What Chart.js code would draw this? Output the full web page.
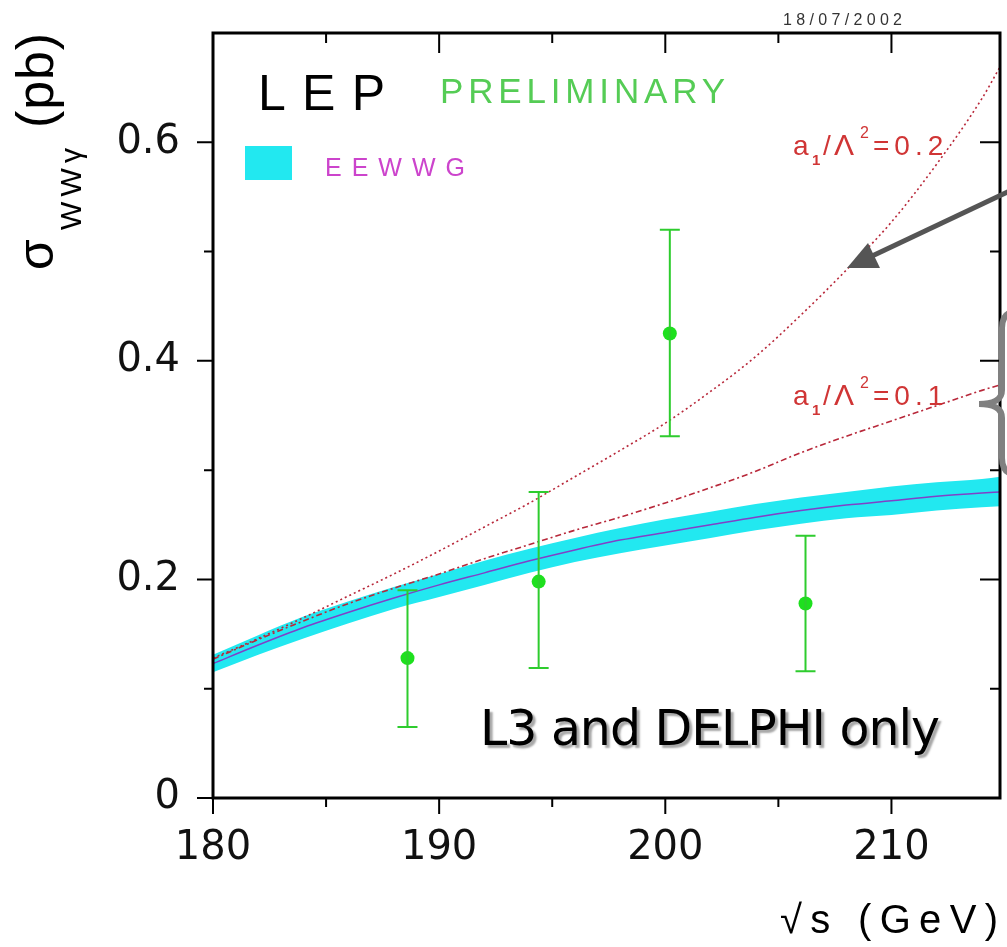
<!DOCTYPE html>
<html>
<head>
<meta charset="utf-8">
<script src="https://cdn.jsdelivr.net/npm/chart.js@4.4.0/dist/chart.umd.min.js"></script>
<style>
  html, body { margin: 0; padding: 0; background: #fff; }
  canvas { display: block; }
</style>
</head>
<body>
<canvas id="wwgChart" width="1007" height="947"></canvas>
<script>
// sqrt(s) points of the theory curves (GeV)
const curveEnergies = [180, 182, 184, 186, 188, 190, 192, 194, 196, 198, 200, 202, 204, 206, 208, 210, 212, 214, 214.8];
// EEWWG Standard Model prediction (pb) and its band
const smCentral = [0.123, 0.140, 0.156, 0.170, 0.183, 0.195, 0.206, 0.217, 0.227, 0.236, 0.243, 0.250, 0.257, 0.263, 0.268, 0.272, 0.276, 0.279, 0.280];
const smUpper   = [0.131, 0.149, 0.166, 0.180, 0.193, 0.205, 0.217, 0.228, 0.238, 0.247, 0.255, 0.262, 0.269, 0.275, 0.280, 0.285, 0.289, 0.292, 0.294];
const smLower   = [0.115, 0.131, 0.146, 0.160, 0.173, 0.184, 0.195, 0.206, 0.216, 0.224, 0.231, 0.238, 0.245, 0.251, 0.256, 0.259, 0.263, 0.266, 0.267];
// anomalous coupling curves a1/Lambda^2 = 0.2 and 0.1
const coupling02 = [0.128, 0.146, 0.165, 0.185, 0.205, 0.226, 0.248, 0.270, 0.294, 0.318, 0.343, 0.372, 0.404, 0.442, 0.483, 0.527, 0.580, 0.640, 0.669];
const coupling01 = [0.127, 0.145, 0.162, 0.178, 0.192, 0.205, 0.219, 0.232, 0.245, 0.257, 0.270, 0.284, 0.299, 0.316, 0.331, 0.345, 0.359, 0.373, 0.378];

// L3 + DELPHI measurements
const dataEnergies = [188.6, 194.4, 200.2, 206.2];
const dataXsec     = [0.128, 0.198, 0.425, 0.178];
const dataErrTop   = [0.190, 0.280, 0.520, 0.240];
const dataErrBottom= [0.065, 0.119, 0.331, 0.116];

// ticks
const xMajorTicks = [180, 190, 200, 210];
const xMinorTicks = [185, 195, 205];
const xTickLabels = ['180', '190', '200', '210'];
const yMajorTicks = [0, 0.2, 0.4, 0.6];
const yMinorTicks = [0.1, 0.3, 0.5];
const yTickLabels = ['0', '0.2', '0.4', '0.6'];

function pairs(xs, ys) {
    return xs.map((x, i) => ({ x: x, y: ys[i] }));
}

function fitText(ctx, text, x, y, width) {
    ctx.letterSpacing = '0px';
    const w = ctx.measureText(text).width;
    const n = [...text].length;
    ctx.letterSpacing = (n > 1 ? (width - w) / (n - 1) : 0) + 'px';
    ctx.fillText(text, x, y);
    ctx.letterSpacing = '0px';
}

function labelFor(majors, labels) {
    return function(value) {
        const i = majors.findIndex(m => Math.abs(m - value) < 1e-6);
        return i === -1 ? '' : labels[i];
    };
}

// error bars, frame, ticks and annotations
const decorPlugin = {
    id: 'decor',
    afterDatasetsDraw(chart) {
        const ctx = chart.ctx;
        const xs = chart.scales.x, ys = chart.scales.y;
        ctx.save();
        ctx.strokeStyle = '#2ecc2e';
        ctx.lineWidth = 2;
        dataEnergies.forEach((e, i) => {
            const px = xs.getPixelForValue(e);
            const top = ys.getPixelForValue(dataErrTop[i]);
            const bot = ys.getPixelForValue(dataErrBottom[i]);
            ctx.beginPath();
            ctx.moveTo(px, top); ctx.lineTo(px, bot);
            ctx.moveTo(px - 10, top); ctx.lineTo(px + 10, top);
            ctx.moveTo(px - 10, bot); ctx.lineTo(px + 10, bot);
            ctx.stroke();
        });
        ctx.restore();
    },
    afterDraw(chart) {
        const ctx = chart.ctx;
        const a = chart.chartArea;
        const xs = chart.scales.x, ys = chart.scales.y;
        ctx.save();

        // frame
        ctx.strokeStyle = '#000';
        ctx.lineWidth = 3;
        ctx.strokeRect(a.left, a.top, a.right - a.left, a.bottom - a.top);

        // tick marks
        ctx.lineWidth = 2;
        ctx.beginPath();
        const xt = (v, outer, inner) => {
            const p = xs.getPixelForValue(v);
            ctx.moveTo(p, a.bottom); ctx.lineTo(p, a.bottom + outer);
            ctx.moveTo(p, a.top); ctx.lineTo(p, a.top + inner);
        };
        const yt = (v, outer, inner) => {
            const p = ys.getPixelForValue(v);
            ctx.moveTo(a.left - outer, p); ctx.lineTo(a.left, p);
            ctx.moveTo(a.right, p); ctx.lineTo(a.right - inner, p);
        };
        xMajorTicks.forEach(v => xt(v, 16, 20));
        xMinorTicks.forEach(v => xt(v, 9, 10));
        yMajorTicks.forEach(v => yt(v, 16, 20));
        yMinorTicks.forEach(v => yt(v, 9, 10));
        ctx.stroke();

        ctx.textAlign = 'left';
        ctx.textBaseline = 'alphabetic';

        // y title
        ctx.save();
        ctx.translate(53, 270);
        ctx.rotate(-Math.PI / 2);
        ctx.fillStyle = '#000';
        ctx.font = '50px "Liberation Sans"';
        fitText(ctx, 'σ', 0, 0, 34);
        ctx.font = '30px "Liberation Sans"';
        fitText(ctx, 'WWγ', 40, 28, 82);
        ctx.font = '52px "Liberation Sans"';
        fitText(ctx, '(pb)', 142, 0, 95);
        ctx.restore();

        // x title
        ctx.fillStyle = '#000';
        ctx.font = '40px "Liberation Sans"';
        fitText(ctx, '√s (GeV)', 780, 933, 218);

        // date stamp
        ctx.fillStyle = '#333';
        ctx.font = '16px "Liberation Sans"';
        fitText(ctx, '18/07/2002', 783, 25, 119);

        // LEP PRELIMINARY
        ctx.fillStyle = '#000';
        ctx.font = '50px "Liberation Sans"';
        fitText(ctx, 'LEP', 258, 110, 127);
        ctx.fillStyle = '#55cc55';
        ctx.font = '35px "Liberation Sans"';
        fitText(ctx, 'PRELIMINARY', 440, 103, 285);

        // legend
        ctx.fillStyle = '#22e8f0';
        ctx.fillRect(245, 146, 47, 34);
        ctx.fillStyle = '#cc44cc';
        ctx.font = '25px "Liberation Sans"';
        fitText(ctx, 'EEWWG', 325, 176, 140);

        // coupling labels
        const coupling = (val, base) => {
            ctx.fillStyle = '#d03535';
            ctx.font = '28px "Liberation Sans"';
            ctx.fillText('a', 793, base);
            ctx.font = 'bold 15px "Liberation Sans"';
            ctx.fillText('1', 812, base + 10);
            ctx.font = '28px "Liberation Sans"';
            ctx.fillText('/', 823, base);
            ctx.font = '30px "Liberation Sans"';
            ctx.fillText('Λ', 834, base);
            ctx.font = '16px "Liberation Sans"';
            ctx.fillText('2', 860, base - 17);
            ctx.font = '28px "Liberation Sans"';
            ctx.letterSpacing = '5px';
            ctx.fillText('=' + val, 873, base);
            ctx.letterSpacing = '0px';
        };
        coupling('0.2', 155);
        coupling('0.1', 405);

        // L3 and DELPHI only
        ctx.save();
        ctx.shadowColor = 'rgba(0,0,0,0.35)';
        ctx.shadowOffsetX = 3;
        ctx.shadowOffsetY = 3;
        ctx.shadowBlur = 2;
        ctx.fillStyle = '#000';
        ctx.font = '49px "DejaVu Sans"';
        fitText(ctx, 'L3 and DELPHI only', 480, 745, 460);
        ctx.restore();

        // arrow
        ctx.strokeStyle = '#555';
        ctx.fillStyle = '#555';
        ctx.lineWidth = 5;
        ctx.beginPath();
        ctx.moveTo(1012, 190);
        ctx.lineTo(870, 257);
        ctx.stroke();
        ctx.beginPath();
        ctx.moveTo(847, 268);
        ctx.lineTo(868, 243);
        ctx.lineTo(880, 268);
        ctx.closePath();
        ctx.fill();

        // brace
        ctx.strokeStyle = '#808080';
        ctx.lineWidth = 6;
        ctx.lineCap = 'round';
        ctx.beginPath();
        ctx.moveTo(1016, 312);
        ctx.quadraticCurveTo(1002, 312, 1002, 328);
        ctx.lineTo(1002, 390);
        ctx.quadraticCurveTo(1002, 404, 979, 404);
        ctx.quadraticCurveTo(1002, 404, 1002, 418);
        ctx.lineTo(1002, 458);
        ctx.quadraticCurveTo(1002, 474, 1016, 474);
        ctx.stroke();

        ctx.restore();
    }
};

const ctx = document.getElementById('wwgChart').getContext('2d');
new Chart(ctx, {
    type: 'line',
    data: {
        datasets: [
            {
                label: 'band low',
                data: pairs(curveEnergies, smLower),
                borderWidth: 0,
                pointRadius: 0,
                fill: false,
                cubicInterpolationMode: 'monotone',
                order: 6
            },
            {
                label: 'EEWWG',
                data: pairs(curveEnergies, smUpper),
                borderWidth: 0,
                pointRadius: 0,
                backgroundColor: '#22e8f0',
                fill: '-1',
                cubicInterpolationMode: 'monotone',
                order: 5
            },
            {
                label: 'SM',
                data: pairs(curveEnergies, smCentral),
                borderColor: '#8040c8',
                borderWidth: 1.5,
                pointRadius: 0,
                fill: false,
                cubicInterpolationMode: 'monotone',
                order: 4
            },
            {
                label: 'a1/L2 = 0.2',
                data: pairs(curveEnergies, coupling02),
                borderColor: '#b8283a',
                borderWidth: 1.6,
                borderDash: [2, 3],
                pointRadius: 0,
                fill: false,
                cubicInterpolationMode: 'monotone',
                order: 3
            },
            {
                label: 'a1/L2 = 0.1',
                data: pairs(curveEnergies, coupling01),
                borderColor: '#b8283a',
                borderWidth: 1.6,
                borderDash: [6, 3, 2, 3],
                pointRadius: 0,
                fill: false,
                cubicInterpolationMode: 'monotone',
                order: 2
            },
            {
                label: 'L3 + DELPHI',
                data: pairs(dataEnergies, dataXsec),
                showLine: false,
                pointRadius: 7,
                pointBackgroundColor: '#1ee01e',
                pointBorderColor: '#1ee01e',
                pointBorderWidth: 0,
                order: 1
            }
        ]
    },
    options: {
        responsive: false,
        animation: false,
        events: [],
        layout: { padding: { top: 33, right: 5, left: 0, bottom: 0 } },
        plugins: {
            legend: { display: false },
            tooltip: { enabled: false }
        },
        scales: {
            x: {
                type: 'linear',
                min: 180,
                max: 214.8,
                grid: { display: false },
                border: { display: false },
                afterBuildTicks: s => { s.ticks = xMajorTicks.concat(xMinorTicks).map(v => ({ value: v })); },
                afterFit: s => { s.height = 149; s.paddingLeft = 0; s.paddingRight = 0; },
                ticks: {
                    autoSkip: false,
                    maxRotation: 0,
                    padding: 19,
                    color: '#111',
                    font: { family: 'DejaVu Sans', size: 40 },
                    callback: labelFor(xMajorTicks, xTickLabels)
                }
            },
            y: {
                type: 'linear',
                min: 0,
                max: 0.7,
                grid: { display: false },
                border: { display: false },
                afterBuildTicks: s => { s.ticks = yMajorTicks.concat(yMinorTicks).map(v => ({ value: v })); },
                afterFit: s => { s.width = 213; s.paddingTop = 0; s.paddingBottom = 0; },
                ticks: {
                    autoSkip: false,
                    padding: 25,
                    color: '#111',
                    font: { family: 'DejaVu Sans', size: 40 },
                    callback: labelFor(yMajorTicks, yTickLabels)
                }
            }
        }
    },
    plugins: [decorPlugin]
});
</script>
</body>
</html>
